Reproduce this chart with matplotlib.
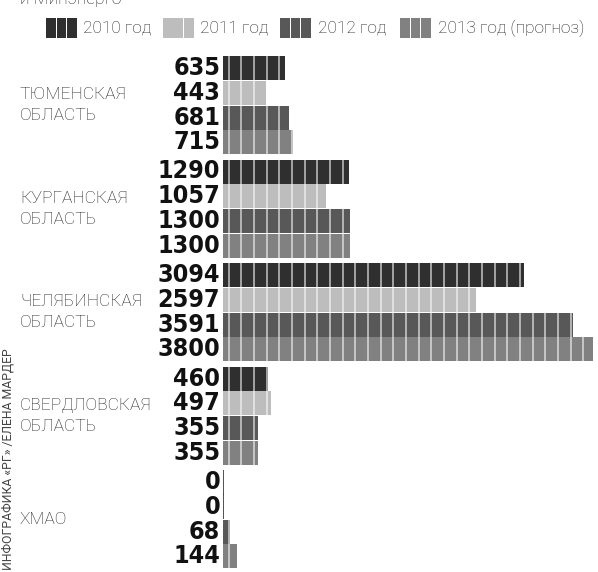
import numpy as np
import matplotlib.pyplot as plt
from matplotlib.patches import Rectangle

# data
regions = ['ТЮМЕНСКАЯ\nОБЛАСТЬ', 'КУРГАНСКАЯ\nОБЛАСТЬ', 'ЧЕЛЯБИНСКАЯ\nОБЛАСТЬ',
           'СВЕРДЛОВСКАЯ\nОБЛАСТЬ', 'ХМАО']
years = ['2010 год', '2011 год', '2012 год', '2013 год (прогноз)']
v2010 = [635, 1290, 3094, 460, 0]
v2011 = [443, 1057, 2597, 497, 0]
v2012 = [681, 1300, 3591, 355, 68]
v2013 = [715, 1300, 3800, 355, 144]
colors = ['#2f2f2f', '#bdbdbd', '#585858', '#818181']

W, H = 598, 572
fig = plt.figure(figsize=(W / 100, H / 100), dpi=100)
x0 = 223
ax = fig.add_axes([x0 / W, 0, (W - x0) / W, 1])
ax.set_ylim(H, 0)
ax.set_xlim(0, 3800 * (W - x0) / (593 - x0))
ax.axis('off')

seg = 130      # width of one block inside a bar
row = 24.8     # px between bars
group = 103.5  # px between groups
num_font = dict(family=['DejaVu Sans'], fontstretch='condensed', fontweight='bold',
                fontsize=18, color='#111111')
lab_font = dict(family=['Roboto', 'DejaVu Sans'], fontweight='light', fontsize=12.5,
                color='#222222')

series = [v2010, v2011, v2012, v2013]
for g, name in enumerate(regions):
    for j, vals in enumerate(series):
        v = vals[g]
        y = 68 + g * group + j * row
        if v > 0:
            ax.barh(y, v, height=24, left=0, color=colors[j], linewidth=0)
            xs = np.arange(60, v, seg)
            ax.vlines(xs, y - 12, y + 12, color='white', alpha=0.6, linewidth=1.3)
        else:
            ax.vlines(0, y - 12.5, y + 12.5, color='#333333', linewidth=1.2)
        ax.annotate(str(v), xy=(0, y), xytext=(-2, 0), textcoords='offset points',
                    ha='right', va='center', **num_font)
    yc = 68 + g * group + 1.5 * row
    fig.text(20 / W, 1 - yc / H, name, ha='left', va='center', linespacing=1.5, **lab_font)

# legend
leg = [(46, 83), (163, 200), (280, 318), (400, 438)]
for (sx, tx), c, t in zip(leg, colors, years):
    for k in range(3):
        fig.add_artist(Rectangle(((sx + k * 10.5) / W, 1 - 38 / H), 9.5 / W, 20 / H,
                                 transform=fig.transFigure, color=c, linewidth=0))
    fig.text(tx / W, 1 - 28 / H, t, ha='left', va='center',
             family=['Roboto', 'DejaVu Sans'], fontweight='light', fontsize=12.5, color='#222222')

# cut-off header
fig.text(20 / W, 1 - 4 / H, 'и Минэнерго', ha='left', va='baseline',
         family=['Roboto', 'DejaVu Sans'], fontweight='light', fontsize=12.5, color='#222222')

# credit
fig.text(8 / W, 1 - 570 / H, 'ИНФОГРАФИКА «РГ» /ЕЛЕНА МАРДЕР', rotation=90,
         ha='center', va='bottom', family=['Roboto', 'DejaVu Sans'], fontsize=8.8,
         color='#444444')

fig.savefig('out.png', dpi=100)
